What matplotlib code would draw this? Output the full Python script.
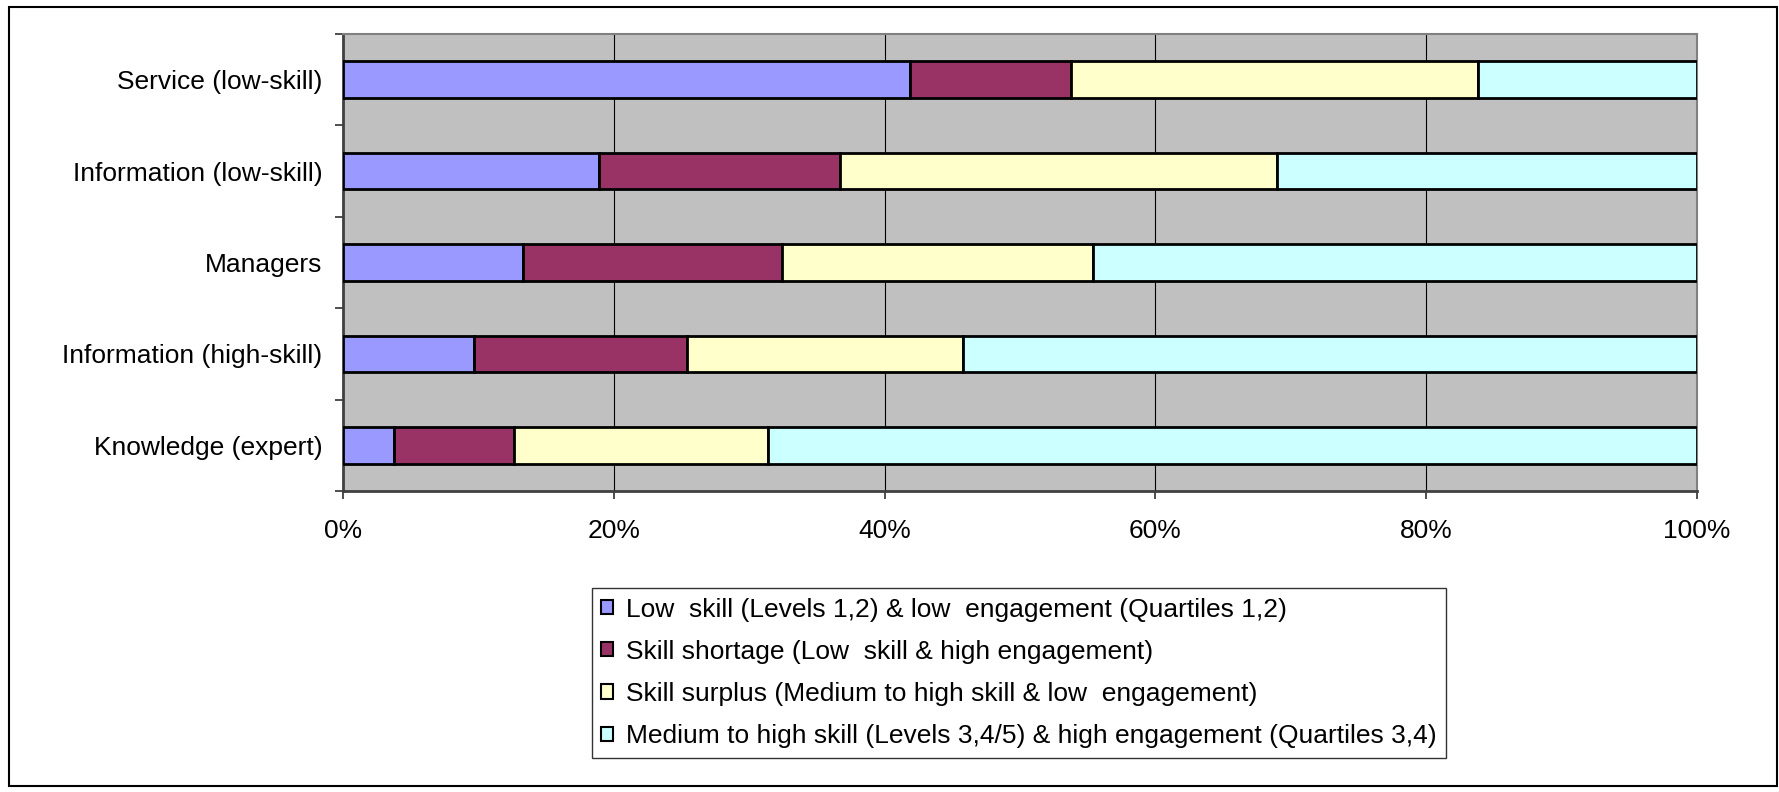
import numpy as np
import matplotlib.pyplot as plt
from matplotlib.patches import Rectangle

plt.rcParams['font.family'] = ['Liberation Sans', 'DejaVu Sans']

# occupational groups, bottom to top as drawn
groups = ['Knowledge (expert)', 'Information (high-skill)', 'Managers',
          'Information (low-skill)', 'Service (low-skill)']

# share of workers in each skill/engagement cell (%)
low_low = [3.8, 9.7, 13.3, 18.9, 41.9]
shortage = [8.8, 15.7, 19.1, 17.8, 11.9]
surplus = [18.8, 20.4, 23.0, 32.3, 30.0]
high_high = [68.6, 54.2, 44.6, 31.0, 16.2]

series_names = ['Low  skill (Levels 1,2) & low  engagement (Quartiles 1,2)',
                'Skill shortage (Low  skill & high engagement)',
                'Skill surplus (Medium to high skill & low  engagement)',
                'Medium to high skill (Levels 3,4/5) & high engagement (Quartiles 3,4)']
colors = ['#9999FF', '#993366', '#FFFFCC', '#CCFFFF']
xticks = [0, 20, 40, 60, 80, 100]

W, H = 1779, 792
fig = plt.figure(figsize=(W / 100, H / 100), dpi=100)
ax = fig.add_axes([343 / W, 1 - 491 / H, (1697 - 343) / W, (491 - 34) / H])
ax.set_facecolor('#C0C0C0')

y = np.arange(len(groups))
left = np.zeros(len(groups))
for vals, name, c in zip([low_low, shortage, surplus, high_high], series_names, colors):
    ax.barh(y, vals, left=left, height=0.4, color=c, edgecolor='black',
            linewidth=2, label=name, zorder=3)
    left += np.array(vals)

ax.set_xlim(0, 100)
ax.set_ylim(-0.5, len(groups) - 0.5)
ax.set_xticks(xticks)
ax.set_xticklabels([f'{t}%' for t in xticks], fontsize=19)
ax.set_yticks(y)
ax.set_yticklabels(groups, fontsize=19)
ax.tick_params(axis='y', length=0, pad=15)
ax.set_yticks(np.arange(-0.5, len(groups), 1), minor=True)
ax.tick_params(axis='y', which='minor', length=5.5, width=1.2, color='#303030')
ax.tick_params(axis='x', length=5.5, width=1.2, color='#303030', pad=15)
ax.grid(axis='x', color='black', linewidth=0.8, zorder=1)
ax.set_axisbelow(True)
for side in ['top', 'right']:
    ax.spines[side].set_color('#808080')
    ax.spines[side].set_linewidth(1.5)
for side in ['left', 'bottom']:
    ax.spines[side].set_color('#404040')
    ax.spines[side].set_linewidth(2)

leg = fig.legend(loc='upper center', bbox_to_anchor=(1019 / W, 1 - 588 / H),
                 fontsize=19, frameon=True, fancybox=False, edgecolor='black',
                 handlelength=0.45, handleheight=0.45, handletextpad=0.5,
                 labelspacing=0.69, borderpad=0.36, borderaxespad=0)
leg.get_frame().set_linewidth(1)
for h in leg.legend_handles:
    h.set_linewidth(1.5)

# outer chart border
fig.patches.append(Rectangle((9 / W, 6 / H), 1768 / W, 779 / H,
                             transform=fig.transFigure, fill=False,
                             edgecolor='black', linewidth=1.5))

fig.savefig('out.png', dpi=100)
